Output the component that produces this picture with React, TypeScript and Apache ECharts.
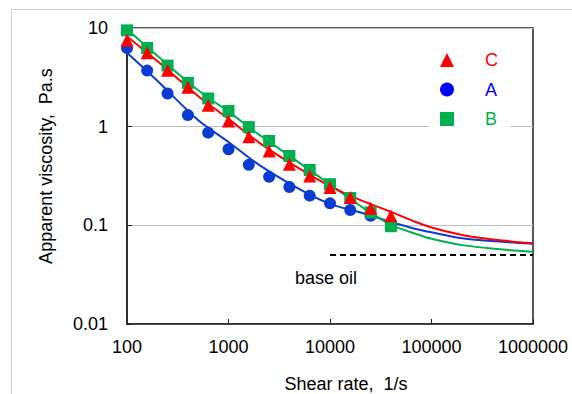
import React, { useEffect, useRef } from "react";
import * as echarts from "echarts";

// Measured shear rates (1/s)
const shearRates = [100, 158, 251, 398, 631, 1000, 1585, 2512, 3981, 6310, 10000, 15849, 25119, 39811];
// Apparent viscosity (Pa.s) measured points
const seriesC = [7.5, 5.6, 3.73, 2.51, 1.65, 1.14, 0.79, 0.567, 0.416, 0.317, 0.242, 0.192, 0.149, 0.125];
const seriesA = [6.28, 3.7, 2.17, 1.31, 0.87, 0.59, 0.41, 0.31, 0.245, 0.2, 0.167, 0.143, 0.125, 0.105];
const seriesB = [9.46, 6.28, 4.16, 2.78, 1.93, 1.44, 0.99, 0.716, 0.505, 0.364, 0.261, 0.189, 0.135, 0.098];

// Fitted curves
const fitX = [100, 200, 500, 1000, 2000, 5000, 10000, 20000, 40000, 70000, 100000, 200000, 500000, 1000000];
const fitC = [8.2, 4.6, 2.05, 1.2, 0.69, 0.375, 0.25, 0.18, 0.137, 0.108, 0.095, 0.08, 0.07, 0.066];
const fitA = [5.6, 2.9, 1.17, 0.7, 0.41, 0.233, 0.165, 0.135, 0.108, 0.092, 0.085, 0.074, 0.068, 0.065];
const fitB = [9.7, 5.2, 2.35, 1.42, 0.83, 0.43, 0.26, 0.157, 0.101, 0.082, 0.073, 0.063, 0.057, 0.054];

// Base oil viscosity line
const baseOilX = [10000, 1000000];
const baseOilY = [0.05, 0.05];

const xTicks = [100, 1000, 10000, 100000, 1000000];
const yTicks = [0.01, 0.1, 1, 10];

const FONT = "'Liberation Sans', Arial, sans-serif";
const RED = "#ff0000";
const BLUE = "#0a3cd2";
const GREEN = "#00b050";

const zip = (xs: number[], ys: number[]) => xs.map((x, i) => [x, ys[i]]);

const fmt = (ticks: number[]) => (v: number) => {
  const n = Number(Number(v).toPrecision(6));
  return ticks.some((t) => Math.abs(t - n) / t < 1e-6) ? String(n) : "";
};

export default function App() {
  const ref = useRef<HTMLDivElement>(null);
  useEffect(() => {
    document.body.style.margin = "0";
    if (!ref.current) return;
    const chart = echarts.init(ref.current, null, { renderer: "svg" });
    chart.setOption({
      animation: false,
      backgroundColor: "#fff",
      textStyle: { fontFamily: FONT },
      grid: {
        left: 127,
        right: 39,
        top: 28,
        bottom: 70,
        show: true,
        borderColor: "#222",
        borderWidth: 1.5,
      },
      xAxis: {
        type: "log",
        logBase: 10,
        min: 100,
        max: 1000000,
        axisLine: { lineStyle: { color: "#222", width: 1.5 } },
        axisTick: { inside: true, length: 5, lineStyle: { color: "#222" } },
        axisLabel: { formatter: fmt(xTicks), fontSize: 18, color: "#000", margin: 14, fontFamily: FONT },
        splitLine: { show: false },
        minorTick: { show: false },
      },
      yAxis: {
        type: "log",
        logBase: 10,
        min: 0.01,
        max: 10,
        axisLine: { lineStyle: { color: "#222", width: 1.5 } },
        axisTick: { inside: true, length: 5, lineStyle: { color: "#222" } },
        axisLabel: { formatter: fmt(yTicks), fontSize: 18, color: "#000", margin: 19, fontFamily: FONT },
        splitLine: { show: true, lineStyle: { color: "#c0c0c0", width: 1 } },
      },
      legend: {
        orient: "vertical",
        left: 429,
        top: 44,
        padding: [7, 12, 4, 11],
        backgroundColor: "#fff",
        itemWidth: 14,
        itemHeight: 14,
        itemGap: 11.5,
        textStyle: { fontSize: 18, fontFamily: FONT, lineHeight: 18, padding: [0, 0, 0, 26] },
        data: [
          { name: "C", textStyle: { color: RED } },
          { name: "A", textStyle: { color: "#0000ff" }, itemStyle: { color: "#0000ff" } },
          { name: "B", textStyle: { color: GREEN } },
        ],
      },
      graphic: [
        {
          type: "rect",
          z: -10,
          silent: true,
          shape: { x: 11.5, y: 9.5, width: 700, height: 500 },
          style: { fill: "none", stroke: "#d0d0d0", lineWidth: 1 },
        },
        {
          type: "text",
          x: 46,
          y: 166,
          rotation: Math.PI / 2,
          style: {
            text: "Apparent viscosity,  Pa.s",
            font: `18px ${FONT}`,
            fill: "#000",
            textAlign: "center",
            textVerticalAlign: "middle",
          },
        },
        {
          type: "text",
          x: 346,
          y: 384,
          style: {
            text: "Shear rate,  1/s",
            font: `18px ${FONT}`,
            fill: "#000",
            textAlign: "center",
            textVerticalAlign: "middle",
          },
        },
        {
          type: "text",
          x: 295,
          y: 278,
          style: {
            text: "base oil",
            font: `18px ${FONT}`,
            fill: "#000",
            textAlign: "left",
            textVerticalAlign: "middle",
          },
        },
      ],
      series: [
        {
          name: "base oil",
          type: "line",
          data: zip(baseOilX, baseOilY),
          symbol: "none",
          lineStyle: { color: "#000", width: 2, type: [6, 4] },
          z: 2,
        },
        {
          name: "A fit",
          type: "line",
          data: zip(fitX, fitA),
          symbol: "none",
          smooth: 0.3,
          lineStyle: { color: BLUE, width: 2 },
          z: 2,
        },
        {
          name: "B fit",
          type: "line",
          data: zip(fitX, fitB),
          symbol: "none",
          smooth: 0.3,
          lineStyle: { color: GREEN, width: 2 },
          z: 2,
        },
        {
          name: "C fit",
          type: "line",
          data: zip(fitX, fitC),
          symbol: "none",
          smooth: 0.3,
          lineStyle: { color: RED, width: 2 },
          z: 2,
        },
        {
          name: "A",
          type: "scatter",
          data: zip(shearRates, seriesA),
          symbol: "circle",
          symbolSize: 12,
          itemStyle: { color: BLUE, opacity: 1 },
          z: 3,
        },
        {
          name: "B",
          type: "scatter",
          data: zip(shearRates, seriesB),
          symbol: "rect",
          symbolSize: 12,
          itemStyle: { color: GREEN, opacity: 1 },
          z: 4,
        },
        {
          name: "C",
          type: "scatter",
          data: zip(shearRates, seriesC),
          symbol: "triangle",
          symbolSize: 13,
          itemStyle: { color: RED, opacity: 1 },
          z: 5,
        },
      ],
    });
    return () => chart.dispose();
  }, []);
  return <div ref={ref} style={{ width: 572, height: 394 }} />;
}
